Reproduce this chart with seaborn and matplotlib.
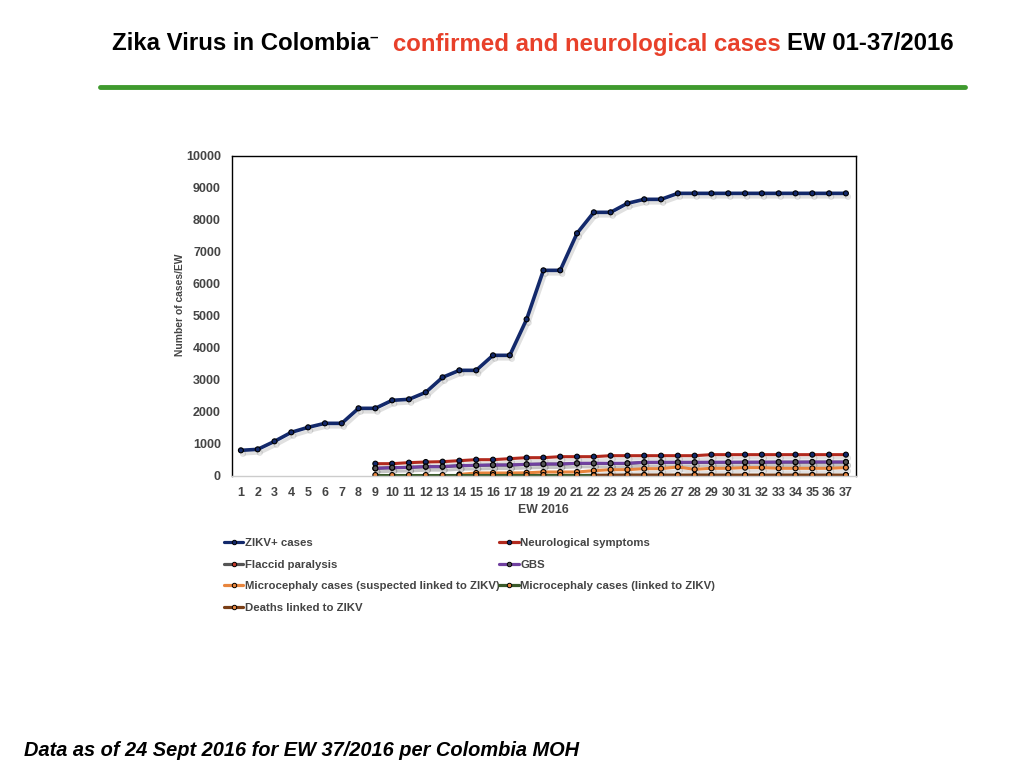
import numpy as np
import pandas as pd
import matplotlib
matplotlib.use("Agg")
import matplotlib.pyplot as plt
import matplotlib.patheffects as pe
from matplotlib.lines import Line2D
import seaborn as sns

sns.set_style("white")
plt.rcParams['font.family'] = ['Liberation Sans', 'DejaVu Sans']

weeks = list(range(1, 38))
zikv = [802, 833, 1083, 1365, 1521, 1646, 1646, 2115, 2115, 2365, 2396, 2615, 3083,
        3302, 3302, 3771, 3771, 4896, 6427, 6427, 7583, 8240, 8240, 8521, 8646, 8646,
        8833, 8833, 8833, 8833, 8833, 8833, 8833, 8833, 8833, 8833, 8833]
neuro_weeks = list(range(9, 38))
neuro = [385, 385, 417, 437, 448, 479, 510, 510, 542, 573, 573, 604, 604, 604, 635,
         635, 635, 635, 635, 635, 667, 667, 667, 667, 667, 667, 667, 667, 667]
gbs = [240, 260, 270, 292, 292, 323, 333, 344, 344, 365, 375, 375, 396, 396, 396,
       396, 427, 427, 427, 427, 430, 430, 432, 432, 435, 435, 437, 437, 437]
flaccid = [238, 258, 268, 290, 290, 320, 330, 340, 340, 362, 372, 372, 393, 393, 393,
           393, 424, 424, 424, 424, 427, 427, 429, 429, 432, 432, 434, 434, 434]
micro_linked = [30, 30, 30, 30, 30, 30, 30, 30, 30, 30, 30, 30, 30, 30, 30,
                30, 30, 30, 30, 30, 30, 30, 30, 30, 30, 30, 30, 30, 30]
susp_weeks = list(range(14, 38))
micro_susp = [50, 94, 94, 94, 100, 125, 125, 125, 167, 198, 198, 229, 229, 281, 208,
              240, 240, 260, 260, 240, 240, 240, 240, 260]
death_weeks = list(range(22, 38))
deaths = [20, 25, 30, 30, 30, 30, 30, 30, 30, 30, 30, 30, 30, 30, 30, 30]

series = [
    ("ZIKV+ cases", weeks, zikv, "#13296b", "#13296b", 2.6),
    ("Neurological symptoms", neuro_weeks, neuro, "#b22a1e", "#13296b", 2.2),
    ("Flaccid paralysis", neuro_weeks, flaccid, "#555555", "#c0392b", 2.2),
    ("GBS", neuro_weeks, gbs, "#7040a0", "#555555", 2.2),
    ("Microcephaly cases (suspected linked to ZIKV)", susp_weeks, micro_susp, "#e8853d", "#e8853d", 2.2),
    ("Microcephaly cases (linked to ZIKV)", neuro_weeks, micro_linked, "#3a5a2a", "#e8853d", 2.2),
    ("Deaths linked to ZIKV", death_weeks, deaths, "#7a3e16", "#e8853d", 2.2),
]

fig = plt.figure(figsize=(10.24, 7.68), dpi=100)
ax = fig.add_axes([232/1024, 1-476/768, 624/1024, 320/768])

shadow = [pe.SimpleLineShadow(offset=(1.5, -2.5), alpha=0.12, shadow_color="black"), pe.Normal()]
handles = []
for name, x, y, lc, mc, lw in series:
    df = pd.DataFrame({"EW": x, "cases": y})
    sns.lineplot(data=df, x="EW", y="cases", ax=ax, color=lc, linewidth=lw,
                 marker="o", markersize=3.6, markerfacecolor=mc, markeredgecolor="black",
                 markeredgewidth=0.8, path_effects=shadow, legend=False)
    handles.append(Line2D([0], [0], color=lc, linewidth=2.3, marker="o", markersize=3.2,
                          markerfacecolor=mc, markeredgecolor="black", markeredgewidth=0.7,
                          label=name))

ax.set_xlim(0.47, 37.6)
ax.set_ylim(0, 10000)
ax.set_xticks(weeks)
ax.set_yticks(range(0, 10001, 1000))
ax.tick_params(axis="x", length=0, labelsize=9, labelcolor="#444444", pad=8)
ax.tick_params(axis="y", length=0, labelsize=9, labelcolor="#444444", pad=8)
for lab in ax.get_xticklabels() + ax.get_yticklabels():
    lab.set_fontweight("bold")
ax.set_xlabel("EW 2016", fontsize=8.8, fontweight="bold", color="#444444")
ax.xaxis.set_label_coords((543-232)/624, -(504-476)/320)
ax.set_ylabel("Number of cases/EW", fontsize=7.4, fontweight="bold", color="#444444")
ax.yaxis.set_label_coords((185-232)/624, (476-305)/320)
for s in ["left", "top", "right"]:
    ax.spines[s].set_color("black")
    ax.spines[s].set_linewidth(1.0)
ax.spines["bottom"].set_color("#cccccc")
ax.spines["bottom"].set_linewidth(1.0)
ax.grid(False)

order = [0, 2, 4, 6, 1, 3, 5]
leg = fig.legend(handles=[handles[i] for i in order], ncol=2, loc="upper left",
                 bbox_to_anchor=(219/1024, 1-533/768), frameon=False, fontsize=8.2,
                 handlelength=1.75, handletextpad=0.1, columnspacing=0.0,
                 labelspacing=1.05, borderaxespad=0)
for t in leg.get_texts():
    t.set_color("#444444")
    t.set_fontweight("bold")

# Title
ty = 1-44/768
t1 = fig.text(112/1024, ty, "Zika Virus in Colombia", fontsize=17.3, fontweight="bold",
              color="black", va="center", ha="left")
fig.text(370/1024, 1-38/768, "\u2013", fontsize=11, fontweight="bold", color="black",
         va="center", ha="left")
fig.canvas.draw()
r = fig.canvas.get_renderer()
t2 = fig.text(393/1024, ty, "confirmed and neurological cases ", fontsize=17.3,
              fontweight="bold", color="#e8402a", va="center", ha="left")
bb2 = t2.get_window_extent(r)
fig.text(bb2.x1/1024, ty, "EW 01-37/2016", fontsize=17.3, fontweight="bold",
         color="black", va="center", ha="left")

fig.add_artist(Line2D([100/1024, 965/1024], [1-87/768, 1-87/768], color="#3f9a2e",
                      linewidth=3.5, transform=fig.transFigure))

fig.text(24/1024, 1-751/768, "Data as of 24 Sept 2016 for EW 37/2016 per Colombia MOH",
         fontsize=14.4, fontweight="bold", fontstyle="italic", color="black",
         va="center", ha="left")

fig.savefig("out.png", dpi=100)
